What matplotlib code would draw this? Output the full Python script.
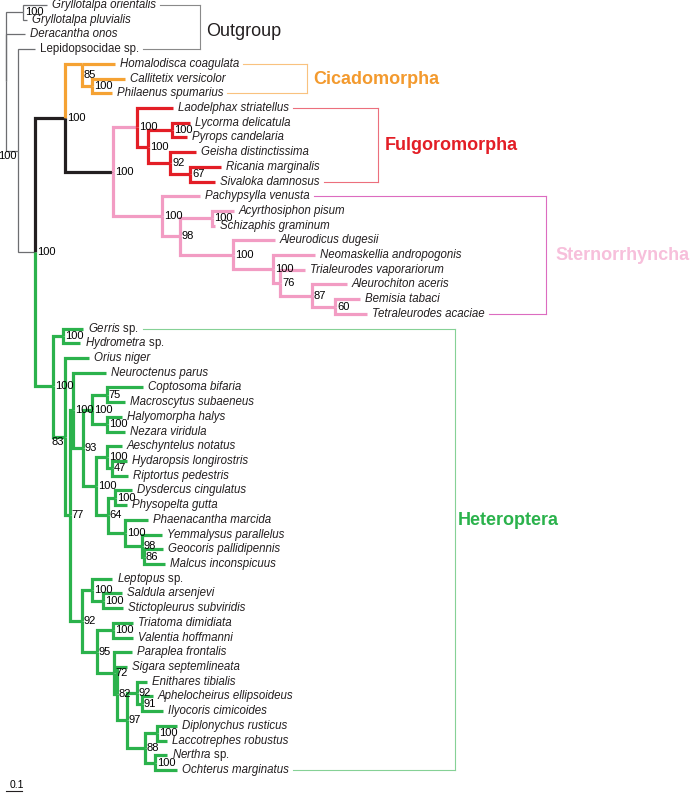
import matplotlib
matplotlib.use("Agg")
import matplotlib.pyplot as plt

plt.rcParams["font.family"] = ["Liberation Sans", "DejaVu Sans"]
plt.rcParams["mathtext.fontset"] = "custom"
plt.rcParams["mathtext.it"] = "Liberation Sans:italic"
plt.rcParams["mathtext.rm"] = "Liberation Sans"

# ---- tree data (branch lengths in substitutions/site) ----
tip_names = [
    "Gryllotalpa orientalis", "Gryllotalpa pluvialis", "Deracantha onos", "Lepidopsocidae sp.",
    "Homalodisca coagulata", "Callitetix versicolor", "Philaenus spumarius",
    "Laodelphax striatellus", "Lycorma delicatula", "Pyrops candelaria", "Geisha distinctissima",
    "Ricania marginalis", "Sivaloka damnosus",
    "Pachypsylla venusta", "Acyrthosiphon pisum", "Schizaphis graminum", "Aleurodicus dugesii",
    "Neomaskellia andropogonis", "Trialeurodes vaporariorum", "Aleurochiton aceris",
    "Bemisia tabaci", "Tetraleurodes acaciae",
    "Gerris sp.", "Hydrometra sp.", "Orius niger", "Neuroctenus parus", "Coptosoma bifaria",
    "Macroscytus subaeneus", "Halyomorpha halys", "Nezara viridula", "Aeschyntelus notatus",
    "Hydaropsis longirostris", "Riptortus pedestris", "Dysdercus cingulatus", "Physopelta gutta",
    "Phaenacantha marcida", "Yemmalysus parallelus", "Geocoris pallidipennis", "Malcus inconspicuus",
    "Leptopus sp.", "Saldula arsenjevi", "Stictopleurus subviridis", "Triatoma dimidiata",
    "Valentia hoffmanni", "Paraplea frontalis", "Sigara septemlineata", "Enithares tibialis",
    "Aphelocheirus ellipsoideus", "Ilyocoris cimicoides", "Diplonychus rusticus",
    "Laccotrephes robustus", "Nerthra sp.", "Ochterus marginatus",
]
tip_parent = [
    "gry", "gry", "root", "ins",
    "cic", "cp", "cp",
    "ful", "lp", "lp", "gr", "rs", "rs",
    "ste", "aph", "aph", "ale", "ale2", "ale3", "ale4", "ale5", "ale5",
    "ger", "ger", "h83", "j100", "c75", "c75", "hn", "hn", "cor", "hr", "hr",
    "pyr", "pyr", "lyg", "f98", "g86", "g86", "lep", "ss", "ss", "red", "red",
    "o72", "p82", "r92", "t91", "t91", "u100", "u100", "v100", "v100",
]
tip_length = [
    0.150, 0.025, 0.119, 0.106,
    0.206, 0.206, 0.125,
    0.225, 0.112, 0.094, 0.162, 0.194, 0.156,
    0.238, 0.138, 0.019, 0.262, 0.262, 0.156, 0.219, 0.156, 0.200,
    0.125, 0.106, 0.150, 0.206, 0.225, 0.112, 0.094, 0.112, 0.094, 0.094, 0.100,
    0.106, 0.075, 0.144, 0.125, 0.119, 0.131, 0.125, 0.119, 0.125, 0.125, 0.125,
    0.112, 0.062, 0.062, 0.069, 0.131, 0.125, 0.062, 0.075, 0.138,
]

node_names = ["root", "gry", "ins", "hem", "auch", "cic", "cp", "fs", "ful", "ful2", "lp", "gr", "rs",
              "ste", "s98", "aph", "ale", "ale2", "ale3", "ale4", "ale5",
              "het", "ger", "h83", "i77", "j100", "p93", "pen", "c75", "hn", "n96", "cor", "hr",
              "c64", "pyr", "lyg", "f98", "g86", "k92", "lep", "ss", "m95", "red", "o72", "p82",
              "q97", "r92", "t91", "s88", "u100", "v100"]
node_parent = [None, "root", "root", "ins", "hem", "auch", "cic", "auch", "fs", "ful", "ful2", "ful2", "gr",
               "fs", "ste", "s98", "s98", "ale", "ale2", "ale3", "ale4",
               "hem", "het", "het", "h83", "i77", "j100", "p93", "pen", "pen", "p93", "n96", "cor",
               "n96", "c64", "c64", "lyg", "f98", "i77", "k92", "lep", "k92", "m95", "m95", "o72",
               "p82", "q97", "r92", "q97", "s88", "s88"]
node_length = [0.0, 0.106, 0.075, 0.106, 0.188, 0.106, 0.062, 0.300, 0.150, 0.069, 0.150, 0.138, 0.125,
               0.306, 0.112, 0.200, 0.331, 0.250, 0.044, 0.200, 0.144,
               0.112, 0.062, 0.075, 0.031, 0.019, 0.062, 0.056, 0.094, 0.094, 0.081, 0.069, 0.031,
               0.075, 0.044, 0.106, 0.106, 0.012, 0.075, 0.062, 0.069, 0.094, 0.100, 0.106, 0.019,
               0.062, 0.062, 0.031, 0.112, 0.075, 0.062]
node_support = [None, 100, 100, 100, 100, 85, 100, 100, 100, 100, 100, 92, 67,
                100, 98, 100, 100, 100, 76, 87, 60,
                100, 100, 83, 77, 100, 93, 100, 75, 100, 100, 100, 47,
                64, 100, 100, 98, 86, 92, 100, 100, 95, 100, 72, 82,
                97, 92, 91, 88, 100, 100]

clade_names = ["Outgroup", "Cicadomorpha", "Fulgoromorpha", "Sternorrhyncha", "Heteroptera"]
clade_first = ["Gryllotalpa orientalis", "Homalodisca coagulata", "Laodelphax striatellus",
               "Pachypsylla venusta", "Gerris sp."]
clade_last = ["Lepidopsocidae sp.", "Philaenus spumarius", "Sivaloka damnosus",
              "Tetraleurodes acaciae", "Ochterus marginatus"]

# ---- styling ----
GREY, BLACK = "#6d6e71", "#231f20"
ORANGE, RED, PINK, GREEN = "#f5a233", "#e31e26", "#f29cc3", "#2bb24c"
stem_colour = {"auch": BLACK, "fs": BLACK, "cic": ORANGE, "ful": PINK, "ste": PINK, "het": GREEN}
crown_colour = {"cic": ORANGE, "ful": RED, "ste": PINK, "het": GREEN}
anchor_first = {"cic"}   # nodes drawn level with their top child
clade_text_colour = ["#231f20", "#f39a2e", "#e31e26", "#f7bfdb", "#2bb24c"]
clade_line_colour = ["#8a8a8a", "#f9c27f", "#ec6f7d", "#dc6cc0", "#86d196"]
bracket_px = [200, 307, 378, 546, 455]
label_gap_px = [6, 6, 7, 9, 3]
label_y_px = [32, 80, 146, 255, 520]

W, H = 690, 793
PX = 1 / 160.0          # data units per pixel (0.1 = 16 px)
ROW = 14.71             # pixels per tip row
X0, Y0 = 6, 5           # pixel position of root / first tip


def ypx(p):
    return (p - Y0) / ROW


fig = plt.figure(figsize=(W / 100, H / 100), dpi=100)
ax = fig.add_axes([0, 0, 1, 1])
ax.set_xlim(-X0 * PX, (W - X0) * PX)
ax.set_ylim(ypx(H), ypx(0))
ax.axis("off")

# ---- layout ----
parent = dict(zip(node_names, node_parent))
parent.update(zip(tip_names, tip_parent))
xpos = {}
for n, p, l in zip(node_names, node_parent, node_length):
    xpos[n] = (xpos[p] if p else 0.0) + l
for n, p, l in zip(tip_names, tip_parent, tip_length):
    xpos[n] = xpos[p] + l

children = {n: [] for n in node_names}
for n in node_names[1:] + tip_names:
    children[parent[n]].append(n)
ypos = {n: i for i, n in enumerate(tip_names)}
ymid = {}
for n in reversed(node_names):
    ys = [ypos[c] for c in children[n]]
    ymid[n] = (min(ys) + max(ys)) / 2
    ypos[n] = min(ys) if n in anchor_first else ymid[n]


def colour(n):
    if n in stem_colour:
        return stem_colour[n]
    p = parent.get(n)
    while p:
        if p in crown_colour:
            return crown_colour[p]
        p = parent.get(p)
    return GREY


# ---- branches ----
for n in node_names[1:] + tip_names:
    p = parent[n]
    c = colour(n)
    lw = 0.9 if c == GREY else 2.3
    ax.plot([xpos[p], xpos[p], xpos[n]], [ypos[p], ypos[n], ypos[n]], color=c, lw=lw,
            solid_capstyle="butt", solid_joinstyle="miter", zorder=2)

# ---- support values ----
for n, s in zip(node_names, node_support):
    if s is None:
        continue
    if n in ("ins", "h83"):
        ax.text(xpos[n] - 1 * PX, ymid[n] + 0.05, str(s), fontsize=8, ha="right", va="top", zorder=3)
    else:
        ax.text(xpos[n] + 2 * PX, ymid[n], str(s), fontsize=8, ha="left", va="center", zorder=3)

# ---- tip labels ----
tip_text = {}
for n in tip_names:
    if n == "Lepidopsocidae sp.":
        lab, style = n, "normal"
    elif n.endswith(" sp."):
        lab, style = r"$\mathit{%s}$ sp." % n[:-4], "normal"
    else:
        lab, style = n, "italic"
    tip_text[n] = ax.text(xpos[n] + 5 * PX, ypos[n], lab, fontsize=8.3, style=style,
                          ha="left", va="center", color="#231f20")

# ---- clade brackets ----
fig.canvas.draw()
r = fig.canvas.get_renderer()
inv = ax.transData.inverted()
for i, name in enumerate(clade_names):
    bx = (bracket_px[i] - X0) * PX
    for t in (clade_first[i], clade_last[i]):
        bb = tip_text[t].get_window_extent(r)
        x_end = inv.transform((bb.x1, 0))[0] + 4 * PX
        ax.plot([x_end, bx], [ypos[t], ypos[t]], color=clade_line_colour[i], lw=0.8)
    ax.plot([bx, bx], [ypos[clade_first[i]], ypos[clade_last[i]]], color=clade_line_colour[i], lw=0.8)
    ax.text(bx + label_gap_px[i] * PX, ypx(label_y_px[i]), name, fontsize=13,
            fontweight="normal" if i == 0 else "bold", color=clade_text_colour[i],
            ha="left", va="center")

# ---- scale bar ----
ax.plot([0, 0.1], [ypx(791), ypx(791)], color=BLACK, lw=0.8)
ax.text(0.05 + 3 * PX, ypx(790), "0.1", fontsize=7.5, ha="center", va="bottom")

fig.savefig("out.png", dpi=100)
